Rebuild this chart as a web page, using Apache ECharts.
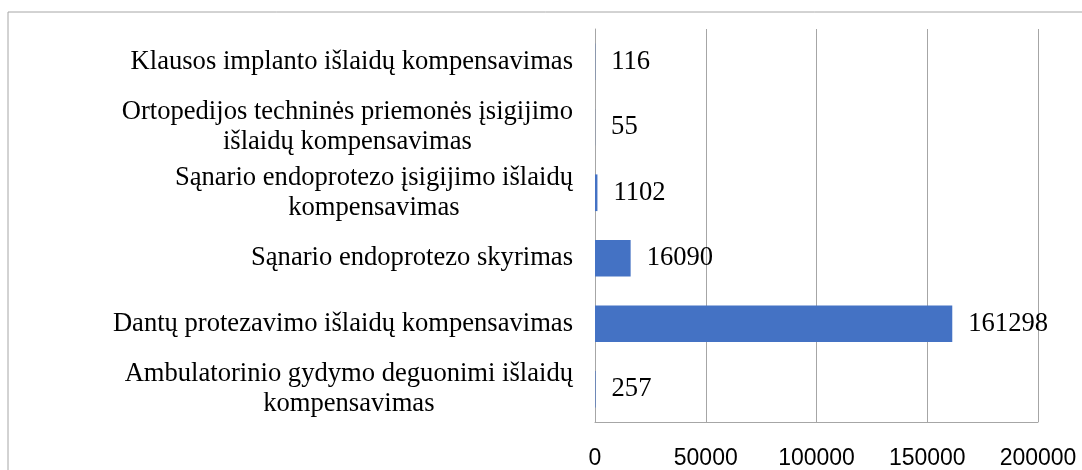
<!DOCTYPE html>
<html>
<head>
<meta charset="utf-8">
<script src="https://cdn.jsdelivr.net/npm/echarts@6/dist/echarts.min.js"></script>
<style>
  html, body { margin: 0; padding: 0; background: #fff; }
  #chart { width: 1082px; height: 470px; }
</style>
</head>
<body>
<div id="chart"></div>
<script>
// categories listed top to bottom, "\n" marks the line breaks of the original
const categories = [
  "Klausos implanto išlaidų kompensavimas",
  "Ortopedijos techninės priemonės įsigijimo\nišlaidų kompensavimas",
  "Sąnario endoprotezo įsigijimo išlaidų\nkompensavimas",
  "Sąnario endoprotezo skyrimas",
  "Dantų protezavimo išlaidų kompensavimas",
  "Ambulatorinio gydymo deguonimi išlaidų\nkompensavimas",
];
const values = [116, 55, 1102, 16090, 161298, 257];
const xTicks = [0, 50000, 100000, 150000, 200000];

const serif = "'Liberation Serif', 'Times New Roman', serif";
const sans = "'Liberation Sans', Arial, sans-serif";
const gridGray = "#a6a6a6";

const chart = echarts.init(document.getElementById("chart"));
chart.setOption({
  animation: false,
  grid: { left: 595, right: 44, top: 29, bottom: 48, containLabel: false },
  graphic: [
    {
      type: "rect",
      shape: { x: 8, y: 12, width: 1200, height: 600 },
      style: { fill: "none", stroke: gridGray, lineWidth: 1 },
      silent: true,
    },
  ],
  xAxis: {
    type: "value",
    min: xTicks[0],
    max: xTicks[xTicks.length - 1],
    interval: xTicks[1] - xTicks[0],
    axisLine: { show: true, lineStyle: { color: gridGray, width: 1 } },
    axisTick: { show: false },
    splitLine: { show: true, lineStyle: { color: gridGray, width: 1 } },
    axisLabel: {
      margin: 25,
      fontFamily: sans,
      fontSize: 23,
      color: "#000",
      formatter: (v) => String(v),
    },
  },
  yAxis: {
    type: "category",
    inverse: true,
    data: categories,
    axisLine: { show: true, lineStyle: { color: gridGray, width: 1 } },
    axisTick: { show: false },
    axisLabel: {
      margin: 22,
      align: "right",
      formatter: (v) => v.split("\n").map((l) => "{c|" + l + "}").join("\n"),
      rich: {
        c: {
          align: "center",
          fontFamily: serif,
          fontSize: 26.6,
          lineHeight: 30,
          color: "#000",
        },
      },
    },
  },
  series: [
    {
      type: "bar",
      data: values,
      barCategoryGap: "44%",
      itemStyle: { color: "#4472c4" },
      label: {
        show: true,
        position: "right",
        distance: 16,
        fontFamily: serif,
        fontSize: 26.6,
        color: "#000",
      },
    },
  ],
});
</script>
</body>
</html>
